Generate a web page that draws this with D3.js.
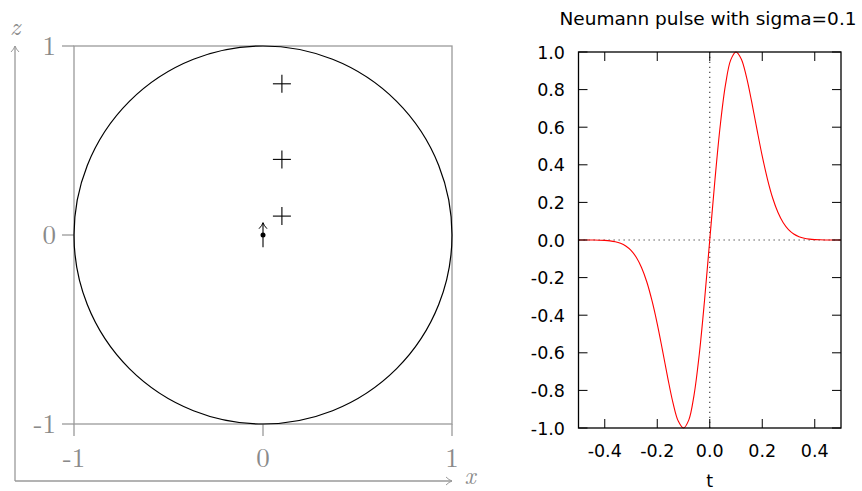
<!DOCTYPE html>
<html><head><meta charset="utf-8">
<script src="https://cdn.jsdelivr.net/npm/d3@7"></script>
<style>body{margin:0;background:#fff}svg{display:block}</style>
</head><body>
<svg id="c" width="862" height="491"></svg>
<script>
// ---- left panel data ----
const sphereTicks = [-1, 0, 1];
const sourceX = [0.1, 0.1, 0.1];
const sourceZ = [0.8, 0.4, 0.1];
const receiver = [0, 0];
const receiverArrow = [-0.065, 0.065];

// ---- right panel data ----
const pulseTitle = "Neumann pulse with sigma=0.1";
const tTicks = [-0.4, -0.2, 0.0, 0.2, 0.4];
const yTicks = [-1.0, -0.8, -0.6, -0.4, -0.2, 0.0, 0.2, 0.4, 0.6, 0.8, 1.0];
const pulseT = [-0.5,-0.48,-0.46,-0.44,-0.42,-0.40,-0.38,-0.36,-0.34,-0.32,-0.30,-0.28,-0.26,-0.24,-0.22,-0.20,-0.18,-0.16,-0.14,-0.12,-0.10,-0.08,-0.06,-0.04,-0.02,0,
  0.02,0.04,0.06,0.08,0.10,0.12,0.14,0.16,0.18,0.20,0.22,0.24,0.26,0.28,0.30,0.32,0.34,0.36,0.38,0.40,0.42,0.44,0.46,0.48,0.5];
const pulseY = [0,-0.0001,-0.0002,-0.0004,-0.001,-0.0022,-0.0046,-0.0091,-0.0173,-0.0315,-0.055,-0.0916,-0.146,-0.222,-0.323,-0.446,-0.587,-0.733,-0.866,-0.963,-1.0,-0.958,-0.826,-0.609,-0.323,0,
  0.323,0.609,0.826,0.958,1.0,0.963,0.866,0.733,0.587,0.446,0.323,0.222,0.146,0.0916,0.055,0.0315,0.0173,0.0091,0.0046,0.0022,0.001,0.0004,0.0002,0.0001,0];

const svg = d3.select("#c");
const gray = "#9a9a9a";
const tgray = "#8a8a8a";
const fmt = d => d3.format(".1f")(d).replace("\u2212", "-");

// ===== Left panel =====
const L = svg.append("g");
const sx = d3.scaleLinear().domain([-1, 1]).range([74, 452]);
const sz = d3.scaleLinear().domain([-1, 1]).range([424, 46]);
const serif = "'Latin Modern Roman','Liberation Serif','DejaVu Serif',serif";

const defs = svg.append("defs");
function mk(id, col){
  defs.append("marker").attr("id",id).attr("viewBox","-6 -5 8 10").attr("refX",1).attr("refY",0)
    .attr("markerWidth",8).attr("markerHeight",10).attr("markerUnits","userSpaceOnUse").attr("orient","auto")
    .append("path").attr("d","M-5,-4 Q-2,-1 1,0 Q-2,1 -5,4").attr("fill","none").attr("stroke",col).attr("stroke-width",1);
}
mk("ah", gray); mk("ahk", "#000");

L.append("line").attr("x1",15).attr("y1",481).attr("x2",15).attr("y2",46)
  .attr("stroke",gray).attr("stroke-width",1.3).attr("marker-end","url(#ah)");
L.append("line").attr("x1",15).attr("y1",481).attr("x2",452).attr("y2",481)
  .attr("stroke",gray).attr("stroke-width",1.3).attr("marker-end","url(#ah)");
L.append("text").attr("x",15).attr("y",35).attr("text-anchor","middle")
  .attr("font-family",serif).attr("font-style","italic").attr("font-size",25).attr("fill",tgray).text("z");
L.append("text").attr("x",470).attr("y",484).attr("text-anchor","middle")
  .attr("font-family",serif).attr("font-style","italic").attr("font-size",24).attr("fill",tgray).text("x");

L.append("rect").attr("x",sx(-1)).attr("y",sz(1)).attr("width",sx(1)-sx(-1)).attr("height",sz(-1)-sz(1))
  .attr("fill","none").attr("stroke",gray).attr("stroke-width",1.3);
L.selectAll(".xt").data(sphereTicks).join("line")
  .attr("x1",d=>sx(d)).attr("x2",d=>sx(d)).attr("y1",sz(-1)).attr("y2",sz(-1)+12)
  .attr("stroke",gray).attr("stroke-width",1.3);
L.selectAll(".zt").data(sphereTicks).join("line")
  .attr("x1",sx(-1)-12).attr("x2",sx(-1)).attr("y1",d=>sz(d)).attr("y2",d=>sz(d))
  .attr("stroke",gray).attr("stroke-width",1.3);
L.selectAll(".xl").data(sphereTicks).join("text")
  .attr("x",d=>sx(d)).attr("y",sz(-1)+43).attr("text-anchor","middle")
  .attr("font-family",serif).attr("font-size",27).attr("fill",tgray).text(d=>d);
L.selectAll(".zl").data(sphereTicks).join("text")
  .attr("x",sx(-1)-18).attr("y",d=>sz(d)+9).attr("text-anchor","end")
  .attr("font-family",serif).attr("font-size",27).attr("fill",tgray).text(d=>d);

L.append("circle").attr("cx",sx(0)).attr("cy",sz(0)).attr("r",sx(1)-sx(0))
  .attr("fill","none").attr("stroke","#000").attr("stroke-width",1.2);

const cs = 9;
sourceX.forEach((x,i)=>{
  const px = sx(x), pz = sz(sourceZ[i]);
  L.append("line").attr("x1",px-cs).attr("x2",px+cs).attr("y1",pz).attr("y2",pz).attr("stroke","#000").attr("stroke-width",1.1);
  L.append("line").attr("x1",px).attr("x2",px).attr("y1",pz-cs).attr("y2",pz+cs).attr("stroke","#000").attr("stroke-width",1.1);
});
L.append("line").attr("x1",sx(receiver[0])).attr("x2",sx(receiver[0]))
  .attr("y1",sz(receiverArrow[0])).attr("y2",sz(receiverArrow[1]))
  .attr("stroke","#000").attr("stroke-width",1.1).attr("marker-end","url(#ahk)");
L.append("circle").attr("cx",sx(receiver[0])).attr("cy",sz(receiver[1])).attr("r",2.5).attr("fill","#000");

// ===== Right panel =====
const R = svg.append("g");
const tx = d3.scaleLinear().domain([-0.5, 0.5]).range([578.5, 841]);
const ty = d3.scaleLinear().domain([-1, 1]).range([428, 52]);
const sans = "'DejaVu Sans',sans-serif";

R.append("line").attr("x1",tx(-0.5)).attr("x2",tx(0.5)).attr("y1",ty(0)).attr("y2",ty(0))
  .attr("stroke","#444").attr("stroke-width",1.2).attr("stroke-dasharray","1.3,3.7");
R.append("line").attr("x1",tx(0)).attr("x2",tx(0)).attr("y1",ty(-1)).attr("y2",ty(1))
  .attr("stroke","#444").attr("stroke-width",1.2).attr("stroke-dasharray","1.3,3.7");

R.append("path").datum(pulseT.map((t,i)=>[t,pulseY[i]]))
  .attr("d", d3.line().x(d=>tx(d[0])).y(d=>ty(d[1])).curve(d3.curveCatmullRom))
  .attr("fill","none").attr("stroke","#f00").attr("stroke-width",1.1);

const tl = 9;
tTicks.forEach(t=>{
  R.append("line").attr("x1",tx(t)).attr("x2",tx(t)).attr("y1",ty(-1)).attr("y2",ty(-1)-tl).attr("stroke","#000").attr("stroke-width",1);
  R.append("line").attr("x1",tx(t)).attr("x2",tx(t)).attr("y1",ty(1)).attr("y2",ty(1)+tl).attr("stroke","#000").attr("stroke-width",1);
});
yTicks.forEach(v=>{
  R.append("line").attr("x1",tx(-0.5)).attr("x2",tx(-0.5)+tl).attr("y1",ty(v)).attr("y2",ty(v)).attr("stroke","#000").attr("stroke-width",1);
  R.append("line").attr("x1",tx(0.5)).attr("x2",tx(0.5)-tl).attr("y1",ty(v)).attr("y2",ty(v)).attr("stroke","#000").attr("stroke-width",1);
});
R.append("rect").attr("x",tx(-0.5)).attr("y",ty(1)).attr("width",tx(0.5)-tx(-0.5)).attr("height",ty(-1)-ty(1))
  .attr("fill","none").attr("stroke","#000").attr("stroke-width",1.3);

R.selectAll(".yl").data(yTicks).join("text")
  .attr("x",565).attr("y",d=>ty(d)+6.5).attr("text-anchor","end")
  .attr("font-family",sans).attr("font-size",17.5).attr("fill","#000").text(fmt);
R.selectAll(".tl").data(tTicks).join("text")
  .attr("x",d=>tx(d)).attr("y",457).attr("text-anchor","middle")
  .attr("font-family",sans).attr("font-size",17.5).attr("fill","#000").text(fmt);
R.append("text").attr("x",tx(0)).attr("y",487).attr("text-anchor","middle")
  .attr("font-family",sans).attr("font-size",17.5).attr("fill","#000").text("t");
R.append("text").attr("x",708).attr("y",25).attr("text-anchor","middle")
  .attr("font-family",sans).attr("font-size",18.5).attr("fill","#000").text(pulseTitle);
</script>
</body></html>
